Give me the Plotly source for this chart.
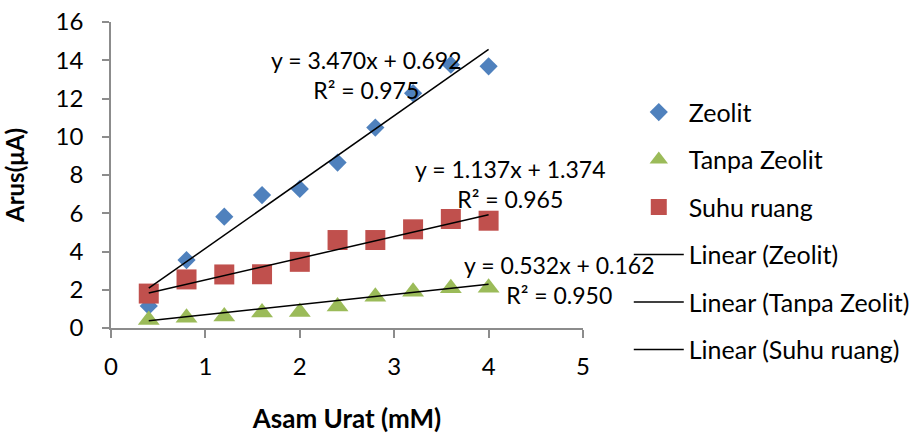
import plotly.graph_objects as go

# ---- data ----
x_vals = [0.4, 0.8, 1.2, 1.6, 2.0, 2.4, 2.8, 3.2, 3.6, 4.0]
zeolit = [1.15, 3.55, 5.82, 6.95, 7.27, 8.65, 10.48, 12.28, 13.77, 13.68]
tanpa_zeolit = [0.42, 0.54, 0.60, 0.81, 0.84, 1.12, 1.63, 1.89, 2.08, 2.11]
suhu_ruang = [1.80, 2.54, 2.80, 2.81, 3.46, 4.60, 4.60, 5.16, 5.70, 5.61]

series_names = ["Zeolit", "Tanpa Zeolit", "Suhu ruang"]
trend_slopes = [3.470, 0.532, 1.137]
trend_intercepts = [0.692, 0.162, 1.374]
trend_r2 = [0.975, 0.950, 0.965]
x_ticks = [0, 1, 2, 3, 4, 5]
y_ticks = [0, 2, 4, 6, 8, 10, 12, 14, 16]

FONT = "Lato"
colors = ["#4F81BD", "#9BBB59", "#C0504D"]
symbols = ["diamond", "triangle-up", "square"]
sizes = [14, 19, 20]
series_vals = [zeolit, tanpa_zeolit, suhu_ruang]

fig = go.Figure()
for i, name in enumerate(series_names):
    fig.add_trace(go.Scatter(
        x=x_vals, y=series_vals[i], mode="markers", name=name,
        legendgroup=f"g{i}",
        marker=dict(symbol=symbols[i], size=sizes[i], color=colors[i],
                    line=dict(width=0)),
    ))

for i, name in enumerate(series_names):
    xs = [x_vals[0], x_vals[-1]]
    ys = [trend_slopes[i] * v + trend_intercepts[i] for v in xs]
    fig.add_trace(go.Scatter(
        x=xs, y=ys, mode="lines", name=f"Linear ({name})",
        legendgroup=f"l{i}",
        line=dict(color="black", width=1.5),
    ))

# equation labels (positions only)
eq_pos = [(2.709, 13.25), (4.754, 2.50), (4.235, 7.53)]
for i in range(3):
    fig.add_annotation(
        x=eq_pos[i][0], y=eq_pos[i][1], xref="x", yref="y",
        text=f"y = {trend_slopes[i]:.3f}x + {trend_intercepts[i]:.3f}<br>R² = {trend_r2[i]:.3f}",
        showarrow=False, align="center",
        font=dict(family=FONT, size=23, color="black"),
    )

axis_common = dict(
    showline=True, linecolor="#8c8c8c", linewidth=1.5,
    ticks="outside", tickcolor="#8c8c8c", tickwidth=1.5,
    showgrid=False, zeroline=False, automargin=False,
    tickfont=dict(family=FONT, size=24, color="black"),
)

fig.update_layout(
    width=913, height=434,
    margin=dict(l=111, r=330, t=22, b=106, autoexpand=False),
    paper_bgcolor="white", plot_bgcolor="white",
    font=dict(family=FONT, color="black"),
    showlegend=True,
    legend=dict(
        x=1.097, y=0.78, xanchor="left", yanchor="top",
        traceorder="grouped", tracegroupgap=12,
        font=dict(family=FONT, size=25, color="black"),
        itemwidth=50, bgcolor="rgba(0,0,0,0)",
        maxheight=1.0,
    ),
    xaxis=dict(
        range=[0, 5], tickvals=x_ticks, ticklen=8,
        ticklabelstandoff=8,
        title=dict(text="<b>Asam Urat (mM)</b>", standoff=42,
                   font=dict(family=FONT, size=26, color="black")),
        **axis_common,
    ),
    yaxis=dict(
        range=[0, 16], tickvals=y_ticks, ticklen=7,
        ticklabelstandoff=14,
        title=dict(text="<b>Arus(μA)</b>", standoff=24,
                   font=dict(family=FONT, size=24, color="black")),
        **axis_common,
    ),
)

fig.write_html("out.html")
